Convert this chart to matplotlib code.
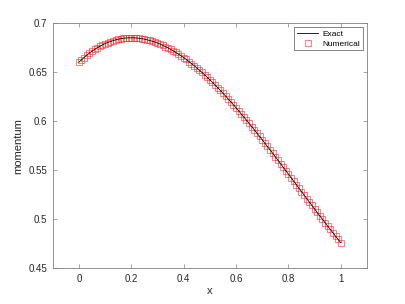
import numpy as np
import matplotlib
matplotlib.use("Agg")
import matplotlib.pyplot as plt

plt.rcParams['font.family'] = ['Liberation Sans', 'DejaVu Sans']

x_vals = [i / 100 for i in range(101)]
momentum = [
    0.6600, 0.6625, 0.6649, 0.6672, 0.6693, 0.6713, 0.6731, 0.6748, 0.6763, 0.6778,
    0.6791, 0.6802, 0.6812, 0.6821, 0.6829, 0.6836, 0.6841, 0.6845, 0.6848, 0.6850,
    0.6850, 0.6850, 0.6848, 0.6845, 0.6841, 0.6836, 0.6830, 0.6823, 0.6815, 0.6807,
    0.6797, 0.6786, 0.6774, 0.6761, 0.6748, 0.6733, 0.6718, 0.6701, 0.6684, 0.6667,
    0.6648, 0.6629, 0.6608, 0.6587, 0.6566, 0.6544, 0.6520, 0.6497, 0.6473, 0.6448,
    0.6422, 0.6396, 0.6369, 0.6342, 0.6314, 0.6286, 0.6257, 0.6227, 0.6198, 0.6167,
    0.6137, 0.6106, 0.6074, 0.6042, 0.6010, 0.5977, 0.5945, 0.5911, 0.5878, 0.5844,
    0.5810, 0.5776, 0.5741, 0.5707, 0.5672, 0.5637, 0.5602, 0.5566, 0.5531, 0.5495,
    0.5460, 0.5424, 0.5388, 0.5353, 0.5317, 0.5281, 0.5246, 0.5210, 0.5175, 0.5139,
    0.5104, 0.5069, 0.5034, 0.4999, 0.4964, 0.4929, 0.4895, 0.4861, 0.4827, 0.4793,
    0.4760,
]
xticks = [0, 0.2, 0.4, 0.6, 0.8, 1]
xtick_labels = ['0', '0.2', '0.4', '0.6', '0.8', '1']
yticks = [0.45, 0.5, 0.55, 0.6, 0.65, 0.7]
ytick_labels = ['0.45', '0.5', '0.55', '0.6', '0.65', '0.7']

fig = plt.figure(figsize=(4.05, 3.04), dpi=100)
ax = fig.add_axes([0.13, 0.118, 0.776, 0.806])

ax.plot(x_vals, momentum, color='black', lw=0.6, label='Exact', zorder=3)
ax.plot(x_vals, momentum, linestyle='none', marker='s', markersize=4.4,
        markerfacecolor='none', markeredgecolor='#ff2020', markeredgewidth=0.4,
        label='Numerical', zorder=2)

ax.set_xlim(-0.1, 1.1)
ax.set_ylim(0.45, 0.7)
ax.set_xticks(xticks)
ax.set_xticklabels(xtick_labels)
ax.set_yticks(yticks)
ax.set_yticklabels(ytick_labels)

gray = '#262626'
for sp in ax.spines.values():
    sp.set_color('#808080')
    sp.set_linewidth(0.6)
ax.tick_params(direction='in', length=3, width=0.5, colors='#808080',
               labelcolor=gray, labelsize=7, top=True, right=True, pad=4)
ax.set_xlabel('x', fontsize=8, color=gray, labelpad=2)
ax.set_ylabel('momentum', fontsize=8, color=gray)
ax.yaxis.set_label_coords(-0.095, 0.5)

leg = ax.legend(loc='upper right', fontsize=6, frameon=True, fancybox=False,
                edgecolor='#262626', handlelength=2.6, borderpad=0.3,
                labelspacing=0.3, handletextpad=0.5, borderaxespad=0.5)
leg.get_frame().set_linewidth(0.5)

fig.savefig('out.png', dpi=100)
